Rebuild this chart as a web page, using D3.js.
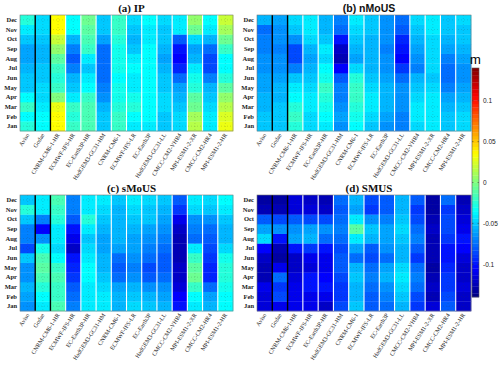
<!DOCTYPE html>
<meta charset='utf-8'>
<style>
body { margin: 0; background: #fff; }
.mon { font-family: 'Liberation Serif', serif; font-size: 6.5px; font-weight: bold; fill: #222; }
.xlab { font-family: 'Liberation Serif', serif; font-size: 6px; fill: #222; }
.ttl { font-family: 'Liberation Serif', serif; font-size: 11px; font-weight: bold; fill: #111; }
.cbt { font-family: 'Liberation Sans', sans-serif; font-size: 6.5px; fill: #222; }
</style>
<svg width='500' height='371'></svg>
<script src='https://d3js.org/d3.v7.min.js'></script>
<script>

var models = ['Aviso', 'Godae', 'CNRM-CM6-1-HR', 'ECMWF-IFS-HR', 'EC-Earth3P-HR', 'HadGEM3-GC31-HM',
  'CNRM-CM6-1', 'ECMWF-IFS-LR', 'EC-Earth3P', 'HadGEM3-GC31-LL', 'CMCC-CM2-VHR4',
  'MPI-ESM1-2-XR', 'CMCC-CM2-HR4', 'MPI-ESM1-2-HR'];
var months = ['Jan', 'Feb', 'Mar', 'Apr', 'May', 'Jun', 'Jul', 'Aug', 'Sep', 'Oct', 'Nov', 'Dec'];
var cbTicks = [0.1, 0.05, 0, -0.05, -0.1];

// one row per model, Jan..Dec (m)
var ipVals = [
  [-0.025,-0.035,-0.02,-0.035,-0.05,-0.05,-0.055,-0.06,-0.06,-0.05,-0.04,-0.025],
  [-0.035,-0.035,-0.04,-0.045,-0.045,-0.05,-0.05,-0.055,-0.055,-0.05,-0.045,-0.045],
  [0.035,0.035,0.03,0.0,-0.02,-0.025,-0.02,-0.01,0.005,0.02,0.035,0.035],
  [-0.02,-0.025,-0.02,-0.04,-0.05,-0.055,-0.07,-0.08,-0.07,-0.055,-0.035,-0.035],
  [-0.015,-0.015,-0.015,-0.02,-0.035,-0.04,-0.05,-0.04,-0.02,-0.015,-0.01,-0.005],
  [-0.05,-0.05,-0.055,-0.065,-0.07,-0.075,-0.075,-0.075,-0.075,-0.06,-0.05,-0.05],
  [-0.02,-0.02,-0.025,-0.03,-0.03,-0.035,-0.03,-0.03,-0.03,-0.025,-0.02,-0.02],
  [-0.04,-0.035,-0.025,-0.03,-0.04,-0.04,-0.035,-0.04,-0.05,-0.055,-0.05,-0.045],
  [-0.04,-0.035,-0.035,-0.035,-0.035,-0.035,-0.035,-0.035,-0.035,-0.04,-0.04,-0.035],
  [-0.05,-0.05,-0.045,-0.045,-0.05,-0.05,-0.055,-0.06,-0.055,-0.05,-0.05,-0.045],
  [-0.045,-0.045,-0.05,-0.055,-0.06,-0.075,-0.095,-0.105,-0.1,-0.08,-0.04,-0.04],
  [0.015,0.01,-0.005,-0.01,-0.025,-0.03,-0.04,-0.055,-0.06,-0.045,-0.005,0.005],
  [-0.04,-0.04,-0.045,-0.05,-0.055,-0.07,-0.085,-0.085,-0.075,-0.055,-0.04,-0.035],
  [0.03,0.025,0.015,0.005,-0.01,-0.025,-0.035,-0.035,-0.02,-0.005,0.01,0.02]
];
var nmousVals = [
  [-0.05,-0.05,-0.055,-0.055,-0.06,-0.06,-0.065,-0.065,-0.07,-0.07,-0.075,-0.055],
  [-0.05,-0.05,-0.05,-0.055,-0.055,-0.06,-0.065,-0.065,-0.07,-0.065,-0.065,-0.06],
  [-0.025,-0.02,-0.025,-0.035,-0.04,-0.05,-0.07,-0.085,-0.085,-0.065,-0.05,-0.045],
  [-0.045,-0.045,-0.04,-0.04,-0.045,-0.05,-0.055,-0.06,-0.055,-0.045,-0.04,-0.04],
  [-0.04,-0.035,-0.03,-0.025,-0.02,-0.03,-0.035,-0.045,-0.04,-0.05,-0.055,-0.055],
  [-0.065,-0.06,-0.065,-0.07,-0.07,-0.08,-0.105,-0.125,-0.12,-0.1,-0.075,-0.07],
  [-0.035,-0.03,-0.025,-0.02,-0.02,-0.025,-0.045,-0.06,-0.055,-0.05,-0.045,-0.04],
  [-0.05,-0.045,-0.04,-0.04,-0.045,-0.05,-0.055,-0.055,-0.055,-0.055,-0.05,-0.05],
  [-0.065,-0.06,-0.055,-0.055,-0.055,-0.06,-0.065,-0.065,-0.07,-0.065,-0.065,-0.065],
  [-0.07,-0.07,-0.065,-0.065,-0.065,-0.075,-0.09,-0.105,-0.1,-0.095,-0.08,-0.075],
  [-0.045,-0.04,-0.04,-0.045,-0.05,-0.055,-0.07,-0.065,-0.06,-0.055,-0.05,-0.045],
  [-0.04,-0.04,-0.04,-0.04,-0.045,-0.05,-0.045,-0.045,-0.045,-0.045,-0.04,-0.04],
  [-0.05,-0.05,-0.055,-0.06,-0.07,-0.075,-0.075,-0.07,-0.06,-0.055,-0.05,-0.05],
  [-0.045,-0.045,-0.05,-0.055,-0.06,-0.065,-0.065,-0.06,-0.055,-0.05,-0.05,-0.045]
];
var smousVals = [
  [-0.065,-0.06,-0.055,-0.065,-0.065,-0.05,-0.085,-0.07,-0.07,-0.05,-0.025,-0.05],
  [-0.04,-0.035,-0.025,-0.015,-0.01,-0.015,-0.03,-0.065,-0.105,-0.07,-0.04,-0.04],
  [-0.015,-0.02,-0.02,-0.015,-0.02,-0.035,-0.045,-0.04,-0.04,-0.025,-0.02,-0.015],
  [-0.07,-0.075,-0.08,-0.09,-0.095,-0.1,-0.12,-0.11,-0.1,-0.08,-0.07,-0.07],
  [-0.04,-0.04,-0.04,-0.035,-0.035,-0.04,-0.045,-0.05,-0.04,-0.025,-0.04,-0.04],
  [-0.04,-0.04,-0.045,-0.05,-0.055,-0.055,-0.06,-0.06,-0.055,-0.05,-0.045,-0.04],
  [-0.055,-0.055,-0.06,-0.075,-0.08,-0.075,-0.06,-0.055,-0.055,-0.055,-0.055,-0.05],
  [-0.045,-0.05,-0.055,-0.065,-0.07,-0.065,-0.06,-0.06,-0.055,-0.05,-0.045,-0.04],
  [-0.05,-0.055,-0.065,-0.08,-0.085,-0.075,-0.07,-0.065,-0.06,-0.05,-0.05,-0.045],
  [-0.055,-0.06,-0.065,-0.075,-0.08,-0.08,-0.075,-0.07,-0.065,-0.06,-0.055,-0.05],
  [-0.1,-0.105,-0.115,-0.12,-0.12,-0.125,-0.125,-0.125,-0.12,-0.11,-0.09,-0.08],
  [-0.04,-0.035,-0.02,-0.005,-0.01,-0.02,-0.04,-0.075,-0.07,-0.065,-0.045,-0.04],
  [-0.055,-0.06,-0.075,-0.095,-0.095,-0.09,-0.085,-0.08,-0.075,-0.065,-0.05,-0.045],
  [-0.035,-0.035,-0.03,-0.025,-0.025,-0.03,-0.045,-0.055,-0.055,-0.05,-0.04,-0.035]
];
var smusVals = [
  [-0.115,-0.115,-0.11,-0.125,-0.125,-0.12,-0.105,-0.045,-0.06,-0.08,-0.125,-0.13],
  [-0.11,-0.085,-0.09,-0.075,-0.11,-0.13,-0.125,-0.1,-0.065,-0.085,-0.125,-0.13],
  [-0.11,-0.11,-0.11,-0.115,-0.12,-0.12,-0.1,-0.06,-0.065,-0.08,-0.115,-0.115],
  [-0.11,-0.11,-0.1,-0.1,-0.115,-0.11,-0.09,-0.055,-0.06,-0.085,-0.115,-0.12],
  [-0.12,-0.11,-0.1,-0.105,-0.11,-0.11,-0.1,-0.075,-0.065,-0.085,-0.12,-0.125],
  [-0.085,-0.09,-0.09,-0.085,-0.08,-0.08,-0.085,-0.075,-0.07,-0.075,-0.08,-0.075],
  [-0.05,-0.055,-0.055,-0.05,-0.055,-0.075,-0.06,-0.04,-0.01,-0.04,-0.06,-0.055],
  [-0.08,-0.08,-0.075,-0.07,-0.075,-0.085,-0.08,-0.055,-0.05,-0.065,-0.09,-0.085],
  [-0.075,-0.07,-0.065,-0.055,-0.06,-0.075,-0.065,-0.06,-0.06,-0.07,-0.08,-0.08],
  [-0.055,-0.05,-0.045,-0.04,-0.045,-0.055,-0.055,-0.05,-0.045,-0.05,-0.055,-0.055],
  [-0.09,-0.085,-0.075,-0.07,-0.075,-0.09,-0.08,-0.07,-0.075,-0.085,-0.09,-0.08],
  [-0.115,-0.125,-0.12,-0.125,-0.13,-0.125,-0.125,-0.125,-0.12,-0.125,-0.13,-0.13],
  [-0.08,-0.085,-0.09,-0.09,-0.095,-0.1,-0.1,-0.09,-0.085,-0.085,-0.09,-0.075],
  [-0.12,-0.12,-0.115,-0.12,-0.12,-0.115,-0.105,-0.1,-0.11,-0.115,-0.12,-0.125]
];

var panels = [
  {title: '(a)  IP',    vals: ipVals,    x0: 20,  y0: 15,  w: 213, sans: false},
  {title: '(b)  nMoUS', vals: nmousVals, x0: 257, y0: 15,  w: 214, sans: true},
  {title: '(c)  sMoUS', vals: smousVals, x0: 20,  y0: 195, w: 213, sans: false},
  {title: '(d)  SMUS',  vals: smusVals,  x0: 257, y0: 195, w: 214, sans: false}
];
var ph = 116;

// MATLAB jet
function jet(t) {
  function c(v) { return Math.max(0, Math.min(1, v)); }
  var r = c(1.5 - Math.abs(4 * t - 3)),
      g = c(1.5 - Math.abs(4 * t - 2)),
      b = c(1.5 - Math.abs(4 * t - 1));
  return d3.rgb(r * 255, g * 255, b * 255).toString();
}
var color = d3.scaleSequential(jet).domain([-0.14, 0.14]);

var svg = d3.select('svg');

panels.forEach(function(p) {
  var x = d3.scaleBand().domain(models).range([p.x0, p.x0 + p.w]);
  var y = d3.scaleBand().domain(months.slice().reverse()).range([p.y0, p.y0 + ph]);
  var g = svg.append('g');

  // cells
  p.vals.forEach(function(row, i) {
    g.selectAll(null)
      .data(row)
      .enter().append('rect')
        .attr('x', x(models[i]))
        .attr('y', function(d, j) { return y(months[j]); })
        .attr('width', x.bandwidth() + 0.3)
        .attr('height', y.bandwidth() + 0.3)
        .attr('fill', function(d) { return color(d); });
  });

  // dotted grid at tick centres
  g.selectAll(null).data(months).enter().append('line')
    .attr('x1', p.x0).attr('x2', p.x0 + p.w)
    .attr('y1', function(d) { return y(d) + y.bandwidth() / 2; })
    .attr('y2', function(d) { return y(d) + y.bandwidth() / 2; })
    .attr('stroke', '#333').attr('stroke-opacity', 0.35)
    .attr('stroke-width', 0.5).attr('stroke-dasharray', '1,2');
  g.selectAll(null).data(models).enter().append('line')
    .attr('y1', p.y0).attr('y2', p.y0 + ph)
    .attr('x1', function(d) { return x(d) + x.bandwidth() / 2; })
    .attr('x2', function(d) { return x(d) + x.bandwidth() / 2; })
    .attr('stroke', '#333').attr('stroke-opacity', 0.35)
    .attr('stroke-width', 0.5).attr('stroke-dasharray', '1,2');

  // separators: black after obs, white between models
  g.selectAll(null).data(models.slice(1)).enter().append('line')
    .attr('y1', p.y0).attr('y2', p.y0 + ph)
    .attr('x1', function(d) { return x(d); })
    .attr('x2', function(d) { return x(d); })
    .attr('stroke', function(d, i) { return i < 2 ? '#000' : '#fff'; })
    .attr('stroke-width', function(d, i) { return i < 2 ? 1.4 : 1.1; });

  g.append('rect')
    .attr('x', p.x0).attr('y', p.y0)
    .attr('width', p.w).attr('height', ph)
    .attr('fill', 'none').attr('stroke', '#777').attr('stroke-width', 0.6);

  // month labels
  g.selectAll(null).data(months).enter().append('text')
    .attr('class', 'mon')
    .attr('x', p.x0 - 3)
    .attr('y', function(d) { return y(d) + y.bandwidth() / 2 + 2.2; })
    .attr('text-anchor', 'end')
    .text(function(d) { return d; });

  // model labels
  g.selectAll(null).data(models).enter().append('text')
    .attr('class', 'xlab')
    .attr('text-anchor', 'end')
    .attr('transform', function(d) {
      return 'translate(' + (x(d) + x.bandwidth() / 2 + 2) + ',' + (p.y0 + ph + 4) + ') rotate(-57)';
    })
    .text(function(d) { return d; });

  g.append('text')
    .attr('class', 'ttl')
    .attr('x', p.x0 + p.w / 2 + 5)
    .attr('y', p.y0 - 3.5)
    .attr('text-anchor', 'middle')
    .style('font-family', p.sans ? "'Liberation Sans', Arial, sans-serif" : null)
    .style('font-size', p.sans ? '10.5px' : null)
    .text(p.title);
});

// colourbar
var cb = d3.scaleLinear().domain([-0.14, 0.14]).range([297, 68]);
var cbx = 472, cbw = 7;
var steps = d3.range(64).map(function(i) { return -0.14 + (i + 0.5) * 0.28 / 64; });
svg.append('g').selectAll('rect').data(steps).enter().append('rect')
  .attr('x', cbx)
  .attr('y', function(d) { return cb(d + 0.14 / 64); })
  .attr('width', cbw)
  .attr('height', Math.abs(cb(0) - cb(0.28 / 64)) + 0.3)
  .attr('fill', function(d) { return color(d); });
svg.append('rect')
  .attr('x', cbx).attr('y', 68).attr('width', cbw).attr('height', 229)
  .attr('fill', 'none').attr('stroke', '#555').attr('stroke-width', 0.6);
var tk = svg.append('g').selectAll('g').data(cbTicks).enter().append('g');
tk.append('line')
  .attr('x1', cbx).attr('x2', cbx + 1.5)
  .attr('y1', function(d) { return cb(d); }).attr('y2', function(d) { return cb(d); })
  .attr('stroke', '#333').attr('stroke-width', 0.5);
tk.append('line')
  .attr('x1', cbx + cbw - 1.5).attr('x2', cbx + cbw)
  .attr('y1', function(d) { return cb(d); }).attr('y2', function(d) { return cb(d); })
  .attr('stroke', '#333').attr('stroke-width', 0.5);
tk.append('text')
  .attr('class', 'cbt')
  .attr('x', cbx + cbw + 4)
  .attr('y', function(d) { return cb(d) + 2.3; })
  .text(function(d) { return d === 0 ? '0' : String(d); });
svg.append('text')
  .attr('x', cbx + 3.5).attr('y', 64)
  .attr('text-anchor', 'middle')
  .style('font-family', "'Liberation Sans', Arial, sans-serif")
  .style('font-size', '13px')
  .text('m');

</script>
